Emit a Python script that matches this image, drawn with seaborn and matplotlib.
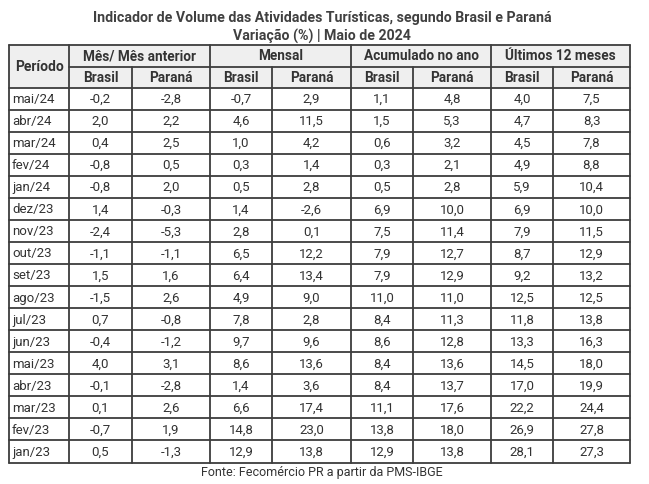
import numpy as np
import pandas as pd
import matplotlib.pyplot as plt
import seaborn as sns
from matplotlib.patches import Rectangle

periodos = ['mai/24', 'abr/24', 'mar/24', 'fev/24', 'jan/24', 'dez/23', 'nov/23', 'out/23',
            'set/23', 'ago/23', 'jul/23', 'jun/23', 'mai/23', 'abr/23', 'mar/23', 'fev/23', 'jan/23']

mm_brasil = [-0.2, 2.0, 0.4, -0.8, -0.8, 1.4, -2.4, -1.1, 1.5, -1.5, 0.7, -0.4, 4.0, -0.1, 0.1, -0.7, 0.5]
mm_parana = [-2.8, 2.2, 2.5, 0.5, 2.0, -0.3, -5.3, -1.1, 1.6, 2.6, -0.8, -1.2, 3.1, -2.8, 2.6, 1.9, -1.3]
mensal_brasil = [-0.7, 4.6, 1.0, 0.3, 0.5, 1.4, 2.8, 6.5, 6.4, 4.9, 7.8, 9.7, 8.6, 1.4, 6.6, 14.8, 12.9]
mensal_parana = [2.9, 11.5, 4.2, 1.4, 2.8, -2.6, 0.1, 12.2, 13.4, 9.0, 2.8, 9.6, 13.6, 3.6, 17.4, 23.0, 13.8]
acum_brasil = [1.1, 1.5, 0.6, 0.3, 0.5, 6.9, 7.5, 7.9, 7.9, 11.0, 8.4, 8.6, 8.4, 8.4, 11.1, 13.8, 12.9]
acum_parana = [4.8, 5.3, 3.2, 2.1, 2.8, 10.0, 11.4, 12.7, 12.9, 11.0, 11.3, 12.8, 13.6, 13.7, 17.6, 18.0, 13.8]
u12_brasil = [4.0, 4.7, 4.5, 4.9, 5.9, 6.9, 7.9, 8.7, 9.2, 12.5, 11.8, 13.3, 14.5, 17.0, 22.2, 26.9, 28.1]
u12_parana = [7.5, 8.3, 7.8, 8.8, 10.4, 10.0, 11.5, 12.9, 13.2, 12.5, 13.8, 16.3, 18.0, 19.9, 24.4, 27.8, 27.3]

grupos = ['Mês/ Mês anterior', 'Mensal', 'Acumulado no ano', 'Últimos 12 meses']
locais = ['Brasil', 'Paraná']

df = pd.DataFrame({
    'Período': periodos,
    'mm_br': mm_brasil, 'mm_pr': mm_parana,
    'men_br': mensal_brasil, 'men_pr': mensal_parana,
    'acu_br': acum_brasil, 'acu_pr': acum_parana,
    'u12_br': u12_brasil, 'u12_pr': u12_parana,
})

sns.set_theme(style='white')
plt.rcParams['font.family'] = ['Roboto', 'DejaVu Sans']

fig = plt.figure(figsize=(6.49, 4.85), dpi=100)
ax = fig.add_axes([0, 0, 1, 1])
ax.set_xlim(0, 649)
ax.set_ylim(485, 0)
ax.axis('off')

# layout (pixels)
col_edges = [9, 69, 132, 210, 272, 351, 413, 491, 553, 630]
top, h1, h2 = 45.5, 67.5, 88.5
bottom = 463.5
row_h = (bottom - h2) / len(df)
line_c = '#3d3d3d'
txt_c = '#333333'
head_bg = '#efefef'

# header background
ax.add_patch(Rectangle((col_edges[0], top), col_edges[-1] - col_edges[0], h2 - top,
                       facecolor=head_bg, edgecolor='none', zorder=0))

ax.text(322, 18, 'Indicador de Volume das Atividades Turísticas, segundo Brasil e Paraná',
        ha='center', va='center', fontsize=10.2, fontweight='bold', color='#404040')
ax.text(322, 36.5, 'Variação (%) | Maio de 2024',
        ha='center', va='center', fontsize=10.2, fontweight='bold', color='#404040')

ax.text((col_edges[0] + col_edges[1]) / 2, (top + h2) / 2, 'Período',
        ha='center', va='center', fontsize=10, fontweight='bold', color=txt_c)
for g, nome in enumerate(grupos):
    x0, x1 = col_edges[1 + 2 * g], col_edges[3 + 2 * g]
    ax.text((x0 + x1) / 2, (top + h1) / 2, nome, ha='center', va='center',
            fontsize=9.8, fontweight='bold', color=txt_c)
    for k, loc in enumerate(locais):
        a, b = col_edges[1 + 2 * g + k], col_edges[2 + 2 * g + k]
        ax.text((a + b) / 2, (h1 + h2) / 2, loc, ha='center', va='center',
                fontsize=9.8, fontweight='bold', color=txt_c)

cols = list(df.columns[1:])
for i, row in df.iterrows():
    yc = h2 + (i + 0.5) * row_h
    ax.text(col_edges[0] + 3, yc, row['Período'], ha='left', va='center',
            fontsize=9.5, color=txt_c)
    for j, c in enumerate(cols):
        xc = (col_edges[1 + j] + col_edges[2 + j]) / 2
        ax.text(xc, yc, f"{row[c]:.1f}".replace('.', ','), ha='center', va='center',
                fontsize=9.5, color=txt_c)

# grid lines
lw = 1.3
for k in range(len(df) + 1):
    y = h2 + k * row_h
    ax.plot([col_edges[0], col_edges[-1]], [y, y], color=line_c, lw=lw)
ax.plot([col_edges[0], col_edges[-1]], [top, top], color=line_c, lw=lw)
ax.plot([col_edges[1], col_edges[-1]], [h1, h1], color=line_c, lw=lw)
for j, x in enumerate(col_edges):
    if j in (0, 1, 3, 5, 7, 9):
        ax.plot([x, x], [top, bottom], color=line_c, lw=lw)
    else:
        ax.plot([x, x], [h1, bottom], color=line_c, lw=lw)

ax.text(322, 472.5, 'Fonte: Fecomércio PR a partir da PMS-IBGE', ha='center', va='center',
        fontsize=9, color=txt_c)

fig.savefig('out.png', dpi=100)
